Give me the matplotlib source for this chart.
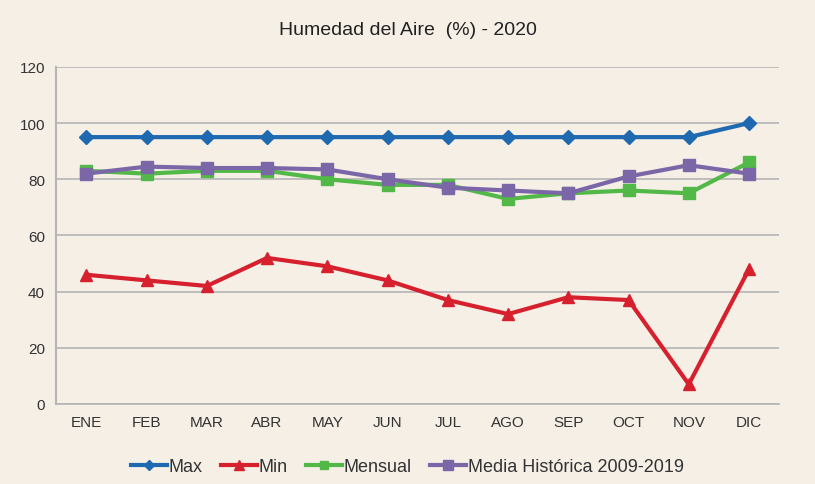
import matplotlib.pyplot as plt

meses = ['ENE', 'FEB', 'MAR', 'ABR', 'MAY', 'JUN', 'JUL', 'AGO', 'SEP', 'OCT', 'NOV', 'DIC']
maxima = [95, 95, 95, 95, 95, 95, 95, 95, 95, 95, 95, 100]
minima = [46, 44, 42, 52, 49, 44, 37, 32, 38, 37, 7, 48]
mensual = [83, 82, 83, 83, 80, 78, 78, 73, 75, 76, 75, 86]
media = [82, 84.5, 84, 84, 83.5, 80, 77, 76, 75, 81, 85, 82]

plt.rcParams['font.family'] = ['Liberation Sans Narrow', 'Liberation Sans', 'DejaVu Sans']
bg = '#f5efe6'

fig = plt.figure(figsize=(8.15, 4.85), dpi=100, facecolor=bg)
ax = fig.add_axes([0.069, 0.165, 0.887, 0.695], facecolor=bg)

x = range(len(meses))
ax.plot(x, maxima, color='#1f69b0', lw=3, marker='D', ms=7, label='Max')
ax.plot(x, minima, color='#d7202e', lw=3, marker='^', ms=9, label='Min')
ax.plot(x, mensual, color='#52b848', lw=3, marker='s', ms=8, label='Mensual')
ax.plot(x, media, color='#7b66a8', lw=3, marker='s', ms=9, label='Media Histórica 2009-2019')

ax.set_xlim(-0.5, 11.5)
ax.set_ylim(0, 120)
ax.set_yticks(range(0, 121, 20))
ax.set_xticks(list(x))
ax.set_xticklabels(meses)
ax.grid(axis='y', color='#b5b5b5', lw=1.2)
ax.set_axisbelow(True)
for s in ['top', 'right']:
    ax.spines[s].set_visible(False)
ax.spines['left'].set_color('#b5b5b5')
ax.spines['bottom'].set_color('#b5b5b5')
ax.spines['left'].set_linewidth(1.5)
ax.spines['bottom'].set_linewidth(1.2)
ax.tick_params(length=0, labelsize=11, colors='#333333', pad=8)

fig.suptitle('Humedad del Aire  (%) - 2020', y=0.955, fontsize=14, color='#222222')
leg = fig.legend(loc='lower center', bbox_to_anchor=(0.5, -0.015), ncol=4, frameon=False,
                 fontsize=13, handlelength=2.0, handletextpad=0.1, columnspacing=1.0,
                 markerscale=0.8)
for t in leg.get_texts():
    t.set_color('#333333')

plt.savefig('out.png', dpi=100, facecolor=bg)
